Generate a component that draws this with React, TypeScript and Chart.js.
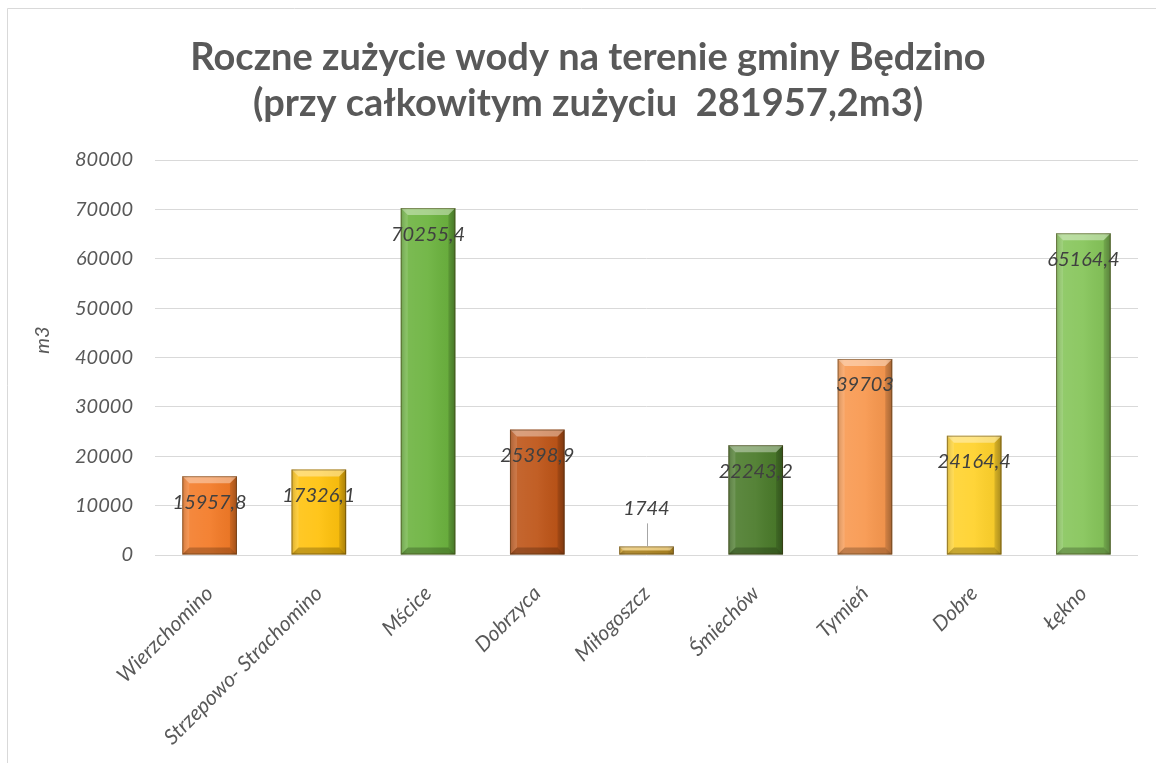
import React, { useEffect, useRef } from "react";
import { Chart, registerables } from "chart.js";

Chart.register(...registerables);

const titleLines = [
  "Roczne zużycie wody na terenie gminy Będzino",
  "(przy całkowitym zużyciu  281957,2m3)",
];
const categories = [
  "Wierzchomino",
  "Strzepowo- Strachomino",
  "Mścice",
  "Dobrzyca",
  "Miłogoszcz",
  "Śmiechów",
  "Tymień",
  "Dobre",
  "Łękno",
];
const values = [15957.8, 17326.1, 70255.4, 25398.9, 1744, 22243.2, 39703, 24164.4, 65164.4];
const valueLabels = ["15957,8", "17326,1", "70255,4", "25398,9", "1744", "22243,2", "39703", "24164,4", "65164,4"];
const yAxisTitle = "m3";
const yMin = 0;
const yMax = 80000;
const yStep = 10000;

const barColors = [
  "#F37B28",
  "#FFC20E",
  "#6CB33F",
  "#BE5518",
  "#DDAA2E",
  "#4B7B2B",
  "#F8984F",
  "#FFD22C",
  "#86C55A",
];

const FONT = "Lato, 'Open Sans', sans-serif";

const framePlugin = {
  id: "frame",
  beforeDraw(chart: any) {
    const { ctx, width, height } = chart;
    ctx.save();
    ctx.fillStyle = "#ffffff";
    ctx.fillRect(0, 0, width, height);
    ctx.strokeStyle = "#d9d9d9";
    ctx.lineWidth = 1;
    ctx.beginPath();
    ctx.moveTo(7.5, height);
    ctx.lineTo(7.5, 8.5);
    ctx.lineTo(width, 8.5);
    ctx.stroke();
    // title
    ctx.fillStyle = "#595959";
    ctx.font = `bold 38px ${FONT}`;
    ctx.textAlign = "center";
    ctx.textBaseline = "middle";
    ctx.fillText(titleLines[0], 588, 58);
    ctx.fillText(titleLines[1], 588, 104);
    // y axis title
    ctx.font = `italic 20px ${FONT}`;
    ctx.translate(43, 340);
    ctx.rotate(-Math.PI / 2);
    ctx.fillText(yAxisTitle, 0, 0);
    ctx.restore();
  },
};

const bevelPlugin = {
  id: "bevel",
  afterDatasetsDraw(chart: any) {
    const { ctx } = chart;
    const meta = chart.getDatasetMeta(0);
    ctx.save();
    meta.data.forEach((el: any) => {
      const { x, y, base, width } = el.getProps(["x", "y", "base", "width"], true);
      const l = x - width / 2;
      const r = x + width / 2;
      const t = y;
      const b = base;
      const bv = Math.min(7, (b - t) / 2);
      const g = ctx.createLinearGradient(l, 0, r, 0);
      g.addColorStop(0, "rgba(0,0,0,0.18)");
      g.addColorStop(0.12, "rgba(255,255,255,0.10)");
      g.addColorStop(0.5, "rgba(255,255,255,0.06)");
      g.addColorStop(0.88, "rgba(0,0,0,0.04)");
      g.addColorStop(1, "rgba(0,0,0,0.25)");
      ctx.fillStyle = g;
      ctx.fillRect(l, t, width, b - t);
      ctx.fillStyle = "rgba(255,255,255,0.38)";
      ctx.beginPath();
      ctx.moveTo(l, t);
      ctx.lineTo(r, t);
      ctx.lineTo(r - bv, t + bv);
      ctx.lineTo(l + bv, t + bv);
      ctx.closePath();
      ctx.fill();
      ctx.fillStyle = "rgba(0,0,0,0.22)";
      ctx.beginPath();
      ctx.moveTo(l, b);
      ctx.lineTo(r, b);
      ctx.lineTo(r - bv, b - bv);
      ctx.lineTo(l + bv, b - bv);
      ctx.closePath();
      ctx.fill();
      ctx.fillStyle = "rgba(255,255,255,0.12)";
      ctx.beginPath();
      ctx.moveTo(l, t);
      ctx.lineTo(l + bv, t + bv);
      ctx.lineTo(l + bv, b - bv);
      ctx.lineTo(l, b);
      ctx.closePath();
      ctx.fill();
      ctx.fillStyle = "rgba(0,0,0,0.12)";
      ctx.beginPath();
      ctx.moveTo(r, t);
      ctx.lineTo(r - bv, t + bv);
      ctx.lineTo(r - bv, b - bv);
      ctx.lineTo(r, b);
      ctx.closePath();
      ctx.fill();
      ctx.strokeStyle = "rgba(60,40,10,0.45)";
      ctx.lineWidth = 1;
      ctx.strokeRect(l + 0.5, t + 0.5, width - 1, b - t - 1);
    });
    ctx.restore();
  },
};

const labelPlugin = {
  id: "valueLabels",
  afterDatasetsDraw(chart: any) {
    const { ctx } = chart;
    const meta = chart.getDatasetMeta(0);
    ctx.save();
    ctx.font = `italic 20px ${FONT}`;
    ctx.fillStyle = "#404040";
    ctx.textAlign = "center";
    ctx.textBaseline = "middle";
    meta.data.forEach((el: any, i: number) => {
      const { x, y, base } = el.getProps(["x", "y", "base"], true);
      if (base - y > 40) {
        ctx.fillText(valueLabels[i], x, y + 26);
      } else {
        ctx.fillText(valueLabels[i], x, y - 38);
        ctx.strokeStyle = "#a6a6a6";
        ctx.lineWidth = 1;
        ctx.beginPath();
        ctx.moveTo(Math.round(x) + 0.5, y - 23);
        ctx.lineTo(Math.round(x) + 0.5, y);
        ctx.stroke();
      }
    });
    ctx.restore();
  },
};

export default function App() {
  const canvasRef = useRef<HTMLCanvasElement | null>(null);

  useEffect(() => {
    if (!canvasRef.current) return;
    const chart = new Chart(canvasRef.current, {
      type: "bar",
      data: {
        labels: categories,
        datasets: [
          {
            data: values,
            backgroundColor: barColors,
            borderWidth: 0,
            barPercentage: 0.5,
            categoryPercentage: 1,
          },
        ],
      },
      options: {
        responsive: false,
        animation: false,
        devicePixelRatio: 1,
        layout: { padding: { left: 0, right: 18, top: 160, bottom: 0 } },
        plugins: {
          legend: { display: false },
          tooltip: { enabled: false },
          title: { display: false },
        },
        scales: {
          x: {
            grid: { display: false, drawTicks: false },
            border: { display: false },
            ticks: {
              autoSkip: false,
              maxRotation: 45,
              minRotation: 45,
              padding: 26,
              color: "#595959",
              font: { family: FONT, style: "italic", size: 21 },
            },
            afterFit: (s: any) => {
              s.height = 208;
            },
          },
          y: {
            min: yMin,
            max: yMax,
            ticks: {
              stepSize: yStep,
              padding: 22,
              color: "#595959",
              font: { family: FONT, style: "italic", size: 20 },
              callback: (v: any) => String(v),
            },
            grid: { color: "#d9d9d9", drawTicks: false },
            border: { display: false },
            afterFit: (s: any) => {
              s.width = 155;
            },
          },
        },
      },
      plugins: [framePlugin, bevelPlugin, labelPlugin],
    });
    return () => chart.destroy();
  }, []);

  return (
    <div style={{ position: "absolute", left: 0, top: 0, width: 1156, height: 763 }}>
      <canvas ref={canvasRef} width={1156} height={763} style={{ display: "block" }} />
    </div>
  );
}
